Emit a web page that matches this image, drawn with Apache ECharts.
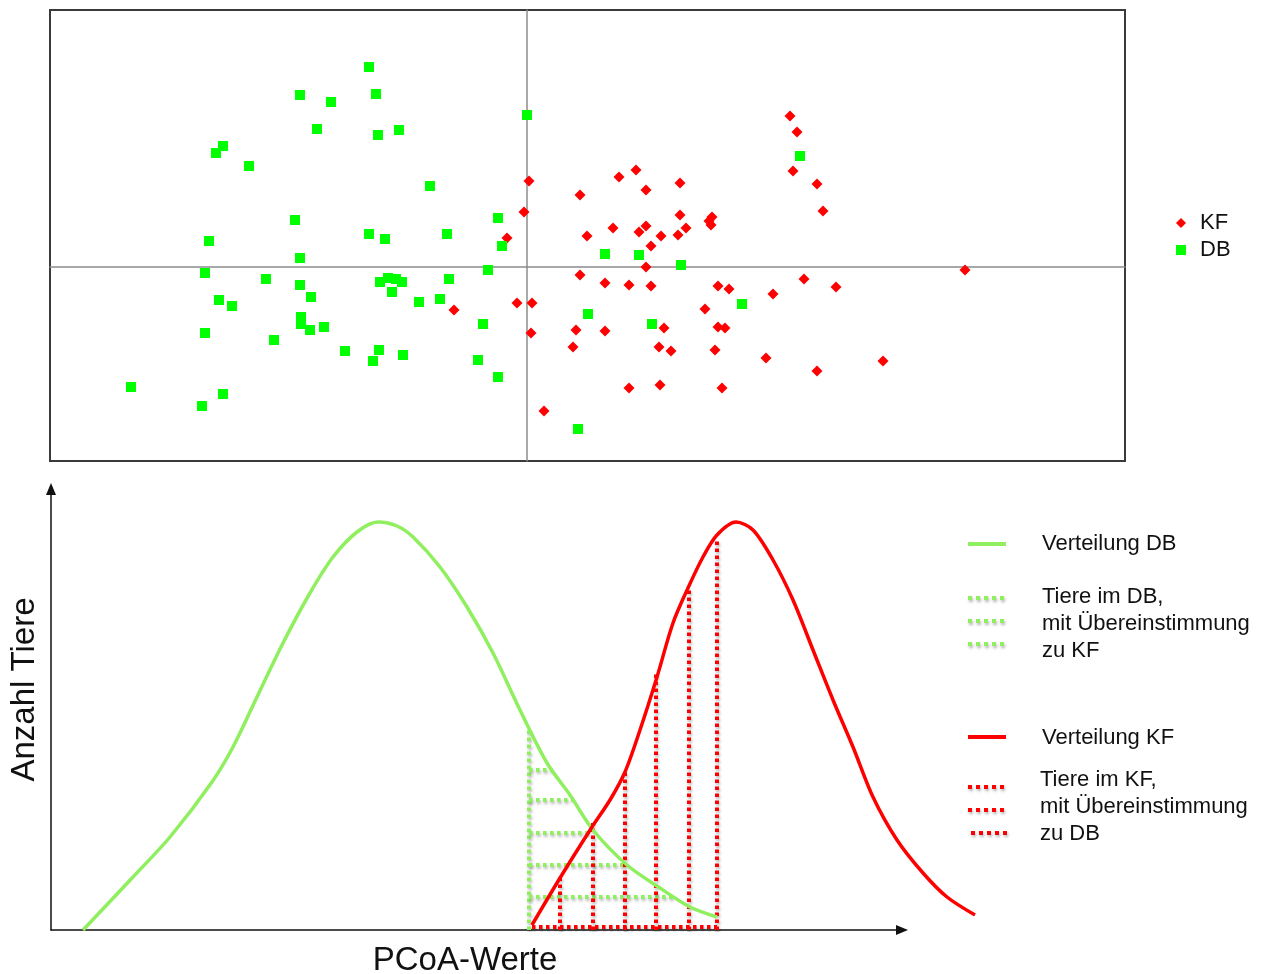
<!DOCTYPE html>
<html>
<head>
<meta charset="utf-8">
<script src="https://cdn.jsdelivr.net/npm/echarts@6/dist/echarts.min.js"></script>
<style>
  html, body { margin: 0; padding: 0; background: #fff; }
  #main { width: 1262px; height: 974px; }
</style>
</head>
<body>
<div id="main"></div>
<script>
// PCoA scatter (axis 1 / axis 2)
var kfPoints = [
  [0.02, 0.86], [-0.03, 0.55], [-0.20, 0.29], [-0.73, -0.43], [-0.10, -0.36], [0.05, -0.36],
  [0.04, -0.66], [2.63, 1.51], [2.70, 1.35], [2.66, 0.96], [2.90, 0.83], [2.96, 0.56],
  [0.53, 0.72], [0.92, 0.90], [1.09, 0.97], [1.19, 0.77], [1.53, 0.84], [1.53, 0.52],
  [1.85, 0.50], [1.82, 0.46], [1.84, 0.42], [0.86, 0.39], [1.19, 0.41], [1.12, 0.35],
  [1.59, 0.39], [0.60, 0.31], [1.34, 0.31], [1.51, 0.32], [1.24, 0.21], [1.19, 0.00],
  [0.53, -0.08], [0.78, -0.16], [1.02, -0.18], [1.24, -0.19], [1.91, -0.19], [2.02, -0.22],
  [2.77, -0.12], [3.09, -0.20], [2.46, -0.27], [4.38, -0.03], [1.78, -0.42], [0.49, -0.63],
  [0.78, -0.64], [1.37, -0.61], [1.91, -0.60], [1.98, -0.61], [0.46, -0.80], [1.32, -0.80],
  [1.44, -0.84], [1.88, -0.83], [2.39, -0.91], [2.90, -1.04], [3.56, -0.94], [1.02, -1.21],
  [1.33, -1.18], [1.95, -1.21], [0.17, -1.44]
];
var dbPoints = [
  [-1.58, 2.00], [-2.27, 1.72], [-1.96, 1.65], [-1.51, 1.73], [0.00, 1.52], [-2.10, 1.38],
  [-1.49, 1.32], [-1.28, 1.37], [-3.04, 1.21], [-3.11, 1.14], [-2.78, 1.01], [-0.97, 0.81],
  [-2.32, 0.47], [-3.18, 0.26], [-1.58, 0.33], [-1.42, 0.28], [-0.80, 0.33], [-0.29, 0.49],
  [-0.25, 0.21], [-2.27, 0.09], [-3.22, -0.06], [-2.61, -0.12], [-2.27, -0.18], [-1.39, -0.11],
  [-1.31, -0.12], [-1.25, -0.15], [-1.47, -0.15], [-1.35, -0.25], [-0.78, -0.12], [-0.39, -0.03],
  [-2.16, -0.30], [-3.08, -0.33], [-2.95, -0.39], [-1.08, -0.35], [-0.87, -0.32], [-3.22, -0.66],
  [-2.26, -0.50], [-2.26, -0.57], [-2.17, -0.63], [-2.03, -0.60], [-2.53, -0.73], [-1.82, -0.84],
  [-1.48, -0.83], [-1.54, -0.94], [-1.24, -0.88], [-0.44, -0.57], [-0.49, -0.93], [-0.29, -1.10],
  [-3.96, -1.20], [-3.04, -1.27], [-3.25, -1.39], [2.73, 1.11], [0.78, 0.13], [1.12, 0.12],
  [1.54, 0.02], [2.15, -0.37], [0.61, -0.47], [1.25, -0.57], [0.51, -1.62]
];

// distribution curves (PCoA value, number of animals)
var dbCurve = [
  [3.2, 0], [8.2, 5.3], [11.9, 9.3], [16.1, 14.8], [18.2, 18.3], [20.6, 23.3], [23.2, 28.7],
  [25.9, 33.7], [28.2, 37.3], [30.6, 39.8], [32.7, 40.8], [34.6, 40.4], [36.2, 39.3],
  [38.9, 36.3], [41.6, 32.3], [44.2, 27.7], [46.9, 22.0], [49.6, 16.7], [51.9, 13.5],
  [54.2, 10.0], [57.6, 6.5], [60.9, 4.2], [63.9, 2.3], [66.6, 1.3]
];
var kfCurve = [
  [48.1, 0.5], [50.9, 5.2], [54.1, 10.3], [55.9, 13.0], [57.4, 15.8], [58.9, 20.0],
  [60.6, 25.3], [62.2, 30.7], [63.7, 34.2], [65.2, 37.3], [66.6, 39.5], [68.5, 40.8],
  [70.2, 40.0], [72.2, 37.0], [74.2, 33.0], [76.2, 28.0], [78.2, 23.0], [80.2, 18.3],
  [82.2, 13.3], [84.6, 9.0], [87.2, 5.7], [89.6, 3.3], [92.4, 1.5]
];

// dotted overlap markers [x1, y1, x2, y2]
var dbHatch = [
  [47.8, 0, 47.8, 20.2], [47.8, 16.0, 50.1, 16.0], [47.8, 13.0, 52.1, 13.0],
  [47.8, 9.7, 54.1, 9.7], [47.8, 6.5, 57.4, 6.5], [47.8, 3.3, 62.2, 3.3]
];
var kfHatch = [
  [48.1, 0.3, 66.6, 0.3], [50.9, 0, 50.9, 5.3], [54.2, 0, 54.2, 10.7], [57.4, 0, 57.4, 16.0],
  [60.5, 0, 60.5, 25.7], [63.8, 0, 63.8, 34.2], [66.6, 0, 66.6, 39.2]
];

var FONT = "'Liberation Sans', Arial, sans-serif";
var GREEN = '#8fef5e';
var RED = '#ff0000';

function toLines(arr) {
  return arr.map(function (s) {
    return { coords: [[s[0], s[1]], [s[2], s[3]]] };
  });
}

var dotStyle = function (color) {
  return {
    color: color, width: 4, type: [3.5, 3.5], opacity: 1,
    shadowColor: 'rgba(0,0,0,0.3)', shadowBlur: 3, shadowOffsetX: 1, shadowOffsetY: 2
  };
};

function legendDots(x, ys, color) {
  return ys.map(function (y) {
    return {
      type: 'line',
      shape: { x1: x, y1: y, x2: x + 40, y2: y },
      style: {
        stroke: color, lineWidth: 4, lineDash: [4, 4],
        shadowColor: 'rgba(0,0,0,0.3)', shadowBlur: 3, shadowOffsetX: 1, shadowOffsetY: 2
      }
    };
  });
}

function legendText(x, y, txt) {
  return {
    type: 'text',
    style: {
      text: txt, x: x, y: y, fill: '#111', font: '22px ' + FONT, lineHeight: 27,
      textAlign: 'left', textVerticalAlign: 'middle', align: 'left', verticalAlign: 'middle'
    }
  };
}

var hidden = {
  axisLine: { show: false }, axisTick: { show: false },
  axisLabel: { show: false }, splitLine: { show: false }
};

var chart = echarts.init(document.getElementById('main'));

var option = {
  backgroundColor: '#fff',
  animation: false,
  textStyle: { fontFamily: FONT },
  grid: [
    { left: 50, top: 10, width: 1075, height: 451, show: true, outerBoundsMode: 'none',
      borderColor: '#3a3a3a', borderWidth: 2, backgroundColor: 'transparent' },
    // curves
    { left: 51, top: 489, width: 924, height: 441, outerBoundsMode: 'none' },
    // visible axis arrows
    { left: 51, top: 489, width: 851, height: 441, outerBoundsMode: 'none' }
  ],
  legend: {
    data: ['KF', 'DB'],
    orient: 'vertical',
    left: 1171, top: 207,
    itemWidth: 10, itemHeight: 10, itemGap: 5,
    textStyle: { fontSize: 22, color: '#111', fontFamily: FONT, padding: [0, 0, 0, 9] }
  },
  xAxis: [
    { gridIndex: 0, type: 'value', min: -4.77, max: 5.98,
      axisLine: { onZero: true, lineStyle: { color: '#8c8c8c', width: 1.5 } },
      axisTick: { show: false }, axisLabel: { show: false }, splitLine: { show: false } },
    Object.assign({ gridIndex: 1, type: 'value', min: 0, max: 92.4 }, hidden),
    { gridIndex: 2, type: 'value', min: 0, max: 85.1,
      name: 'PCoA-Werte', nameLocation: 'middle', nameGap: 14,
      nameTextStyle: { fontSize: 33, color: '#111', fontFamily: FONT, padding: [0, 23, 0, 0] },
      axisLine: { onZero: false, symbol: ['none', 'triangle'], symbolSize: [10, 12],
        lineStyle: { color: '#111', width: 1.5 } },
      axisTick: { show: false }, axisLabel: { show: false }, splitLine: { show: false } }
  ],
  yAxis: [
    { gridIndex: 0, type: 'value', min: -1.94, max: 2.57,
      axisLine: { onZero: true, lineStyle: { color: '#8c8c8c', width: 1.5 } },
      axisTick: { show: false }, axisLabel: { show: false }, splitLine: { show: false } },
    { gridIndex: 1, type: 'value', min: 0, max: 44.1,
      name: 'Anzahl Tiere', nameLocation: 'middle', nameGap: 10, nameRotate: 90,
      nameTextStyle: { fontSize: 33, color: '#111', fontFamily: FONT, padding: [0, 0, 0, 40] },
      axisLine: { onZero: false, symbol: ['none', 'triangle'], symbolSize: [10, 12],
        lineStyle: { color: '#111', width: 1.5 } },
      axisTick: { show: false }, axisLabel: { show: false }, splitLine: { show: false } },
    Object.assign({ gridIndex: 2, type: 'value', min: 0, max: 44.1 }, hidden)
  ],
  series: [
    { name: 'KF', type: 'scatter', xAxisIndex: 0, yAxisIndex: 0, data: kfPoints,
      symbol: 'diamond', symbolSize: 11, itemStyle: { color: RED, opacity: 1 } },
    { name: 'DB', type: 'scatter', xAxisIndex: 0, yAxisIndex: 0, data: dbPoints,
      symbol: 'rect', symbolSize: 10, itemStyle: { color: '#00ff00', opacity: 1 } },
    { name: 'Verteilung DB', type: 'line', xAxisIndex: 1, yAxisIndex: 1, data: dbCurve,
      smooth: 0.3, showSymbol: false, clip: false, lineStyle: { color: GREEN, width: 3.5 } },
    { name: 'Verteilung KF', type: 'line', xAxisIndex: 1, yAxisIndex: 1, data: kfCurve,
      smooth: 0.3, showSymbol: false, clip: false, lineStyle: { color: RED, width: 3.5 } },
    { name: 'Tiere im DB', type: 'lines', coordinateSystem: 'cartesian2d', xAxisIndex: 1, yAxisIndex: 1,
      data: toLines(dbHatch), lineStyle: dotStyle(GREEN), silent: true },
    { name: 'Tiere im KF', type: 'lines', coordinateSystem: 'cartesian2d', xAxisIndex: 1, yAxisIndex: 1,
      data: toLines(kfHatch), lineStyle: dotStyle(RED), silent: true }
  ],
  graphic: [
    { type: 'line', shape: { x1: 968, y1: 544, x2: 1006, y2: 544 }, style: { stroke: GREEN, lineWidth: 4 } },
    legendText(1042, 544, 'Verteilung DB')
  ].concat(legendDots(968, [598, 621, 644], GREEN))
   .concat([legendText(1042, 624, 'Tiere im DB,\nmit Übereinstimmung\nzu KF')])
   .concat([
    { type: 'line', shape: { x1: 968, y1: 737, x2: 1006, y2: 737 }, style: { stroke: RED, lineWidth: 4 } },
    legendText(1042, 738, 'Verteilung KF')
   ])
   .concat(legendDots(968, [787, 810], RED))
   .concat(legendDots(971, [833], RED))
   .concat([legendText(1040, 807, 'Tiere im KF,\nmit Übereinstimmung\nzu DB')])
};

chart.setOption(option);
</script>
</body>
</html>
